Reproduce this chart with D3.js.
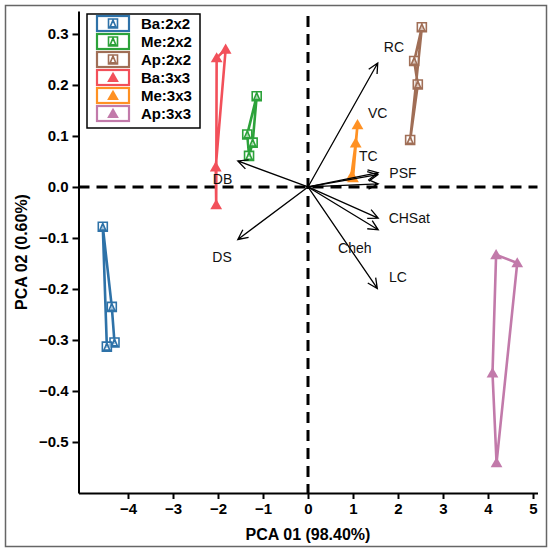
<!DOCTYPE html>
<html>
<head>
<meta charset="utf-8">
<script src="https://cdn.jsdelivr.net/npm/d3@7"></script>
<style>
  body { margin: 0; background: #fff; }
  svg { display: block; font-family: "Liberation Sans", Arial, sans-serif; }
</style>
</head>
<body>
<div id="chart"></div>
<script>
// series (PC1, PC2)
const groups = ['Ba:2x2', 'Me:2x2', 'Ap:2x2', 'Ba:3x3', 'Me:3x3', 'Ap:3x3'];
const colors = ['#2e72a8', '#2ca23a', '#a06e56', '#f2505a', '#ff9123', '#c27aaa'];
const shapes = ['sqtri', 'sqtri', 'sqtri', 'tri', 'tri', 'tri'];

const ba2x2PC1 = [-4.56, -4.36, -4.30, -4.47];
const ba2x2PC2 = [-0.078, -0.235, -0.305, -0.313];
const me2x2PC1 = [-1.14, -1.35, -1.31, -1.23];
const me2x2PC2 = [0.178, 0.103, 0.061, 0.087];
const ap2x2PC1 = [2.53, 2.36, 2.44, 2.27];
const ap2x2PC2 = [0.313, 0.247, 0.201, 0.092];
const ba3x3PC1 = [-2.03, -1.83, -2.05, -2.04];
const ba3x3PC2 = [0.253, 0.27, 0.039, -0.035];
const me3x3PC1 = [1.10, 1.06, 0.96, 1.0];
const me3x3PC2 = [0.122, 0.086, 0.02, 0.018];
const ap3x3PC1 = [4.18, 4.65, 4.19, 4.10];
const ap3x3PC2 = [-0.133, -0.149, -0.541, -0.365];

const seriesPC1 = [ba2x2PC1, me2x2PC1, ap2x2PC1, ba3x3PC1, me3x3PC1, ap3x3PC1];
const seriesPC2 = [ba2x2PC2, me2x2PC2, ap2x2PC2, ba3x3PC2, me3x3PC2, ap3x3PC2];

// loading vectors
const varNames = ['RC', 'VC', 'TC', 'PSF', 'CHSat', 'Cheh', 'LC', 'DB', 'DS'];
const varPC1 = [1.55, 1.56, 1.55, 1.56, 1.56, 1.56, 1.54, -1.56, -1.56];
const varPC2 = [0.243, 0.028, 0.024, 0.006, -0.061, -0.084, -0.199, 0.051, -0.103];
const labelPC1 = [1.91, 1.55, 1.34, 2.11, 2.25, 1.04, 2.0, -1.9, -1.91];
const labelPC2 = [0.275, 0.145, 0.061, 0.027, -0.06, -0.12, -0.176, 0.016, -0.138];

const xTicks = [-4, -3, -2, -1, 0, 1, 2, 3, 4, 5];
const yTicks = [-0.5, -0.4, -0.3, -0.2, -0.1, 0, 0.1, 0.2, 0.3];

const W = 550, H = 554;
const svg = d3.select('#chart').append('svg').attr('width', W).attr('height', H);

svg.append('rect')
  .attr('x', 5.5).attr('y', 5.5).attr('width', 541).attr('height', 541)
  .attr('fill', '#fff').attr('stroke', '#666').attr('stroke-width', 1.5);

const x = d3.scaleLinear().domain([-5.1, 5.1]).range([78.5, 537.5]);
const y = d3.scaleLinear().domain([-0.6, 0.345]).range([493, 11]);

const fmtY = d => (d === 0 ? '0.0' : d3.format('.1f')(d)).replace('-', '\u2212');
const fmtX = d => String(d).replace('-', '\u2212');

// axes
const gx = svg.append('g').attr('transform', `translate(0,${y(-0.6)})`)
  .call(d3.axisBottom(x).tickValues(xTicks).tickFormat(fmtX).tickSize(6).tickPadding(4).tickSizeOuter(0));
const gy = svg.append('g').attr('transform', `translate(${x(-5.1)},0)`)
  .call(d3.axisLeft(y).tickValues(yTicks).tickFormat(fmtY).tickSize(6).tickPadding(4).tickSizeOuter(0));
[gx, gy].forEach(g => {
  g.select('.domain').attr('stroke', '#000').attr('stroke-width', 2);
  g.selectAll('.tick line').attr('stroke', '#000').attr('stroke-width', 2);
  g.selectAll('.tick text').attr('fill', '#000').attr('font-size', 15).attr('font-weight', 'bold')
    .attr('font-family', '"Liberation Sans", Arial, sans-serif');
});

svg.append('text')
  .attr('x', x(0)).attr('y', 540)
  .attr('text-anchor', 'middle').attr('font-size', 16).attr('font-weight', 'bold')
  .text('PCA 01 (98.40%)');
svg.append('text')
  .attr('transform', `translate(27,${(y(-0.6) + y(0.345)) / 2}) rotate(-90)`)
  .attr('text-anchor', 'middle').attr('font-size', 16).attr('font-weight', 'bold')
  .text('PCA 02 (0.60%)');

// zero lines
svg.append('line')
  .attr('x1', x(-5.1)).attr('x2', x(5.1)).attr('y1', y(0)).attr('y2', y(0))
  .attr('stroke', '#000').attr('stroke-width', 3).attr('stroke-dasharray', '11,7');
svg.append('line')
  .attr('x1', x(0)).attr('x2', x(0)).attr('y1', y(0.335)).attr('y2', y(-0.6))
  .attr('stroke', '#000').attr('stroke-width', 3).attr('stroke-dasharray', '11,7');

const sqTriPath = (s) => {
  const h = s / 2, t = s * 0.32;
  return `M${-h},${-h}H${h}V${h}H${-h}Z M${-t},${h * 0.75}L0,${-h * 0.75}L${t},${h * 0.75}Z`;
};
const triPath = d3.symbol().type(d3.symbolTriangle).size(60);

function drawMarker(g, shape, color, size) {
  if (shape === 'sqtri') {
    g.append('path').attr('d', sqTriPath(size))
      .attr('fill', '#fff').attr('fill-opacity', 0.6).attr('stroke', color).attr('stroke-width', 1.6);
  } else {
    g.append('path').attr('d', triPath()).attr('fill', color).attr('transform', 'translate(0,1)');
  }
}

// series
const closed = d3.line().x(d => x(d[0])).y(d => y(d[1])).curve(d3.curveLinearClosed);
groups.forEach((name, i) => {
  const pts = seriesPC1[i].map((v, j) => [v, seriesPC2[i][j]]);
  const g = svg.append('g');
  g.append('path').datum(pts).attr('d', closed)
    .attr('fill', 'none').attr('stroke', colors[i]).attr('stroke-width', 2.6)
    .attr('stroke-linejoin', 'round');
  pts.forEach(p => {
    const m = g.append('g').attr('transform', `translate(${x(p[0])},${y(p[1])})`);
    drawMarker(m, shapes[i], colors[i], 9);
  });
});

// loading arrows
const ag = svg.append('g').attr('stroke', '#000').attr('stroke-width', 1.3).attr('fill', 'none');
varNames.forEach((v, i) => {
  const x0 = x(0), y0 = y(0), x1 = x(varPC1[i]), y1 = y(varPC2[i]);
  const a = Math.atan2(y1 - y0, x1 - x0), L = 11, sp = 0.45;
  const hx1 = x1 - L * Math.cos(a - sp), hy1 = y1 - L * Math.sin(a - sp);
  const hx2 = x1 - L * Math.cos(a + sp), hy2 = y1 - L * Math.sin(a + sp);
  ag.append('path').attr('d', `M${x0},${y0}L${x1},${y1}M${hx1},${hy1}L${x1},${y1}L${hx2},${hy2}`);
});
svg.append('g').selectAll('text').data(varNames).join('text')
  .attr('x', (d, i) => x(labelPC1[i])).attr('y', (d, i) => y(labelPC2[i]))
  .attr('text-anchor', 'middle').attr('dominant-baseline', 'central')
  .attr('font-size', 14).attr('fill', '#111')
  .text(d => d);

// legend
const lg = svg.append('g');
lg.append('rect').attr('x', 87).attr('y', 14).attr('width', 113).attr('height', 114)
  .attr('fill', '#fff').attr('stroke', '#000').attr('stroke-width', 1.5);
groups.forEach((name, i) => {
  const cy = 23.5 + i * 18;
  lg.append('rect').attr('x', 97).attr('y', cy - 7.5).attr('width', 32).attr('height', 15)
    .attr('fill', '#fff').attr('stroke', colors[i]).attr('stroke-width', 2.2);
  const m = lg.append('g').attr('transform', `translate(113,${cy})`);
  drawMarker(m, shapes[i], colors[i], 9);
  lg.append('text').attr('x', 141).attr('y', cy).attr('dominant-baseline', 'central')
    .attr('font-size', 15).attr('font-weight', 'bold').text(name);
});
</script>
</body>
</html>
